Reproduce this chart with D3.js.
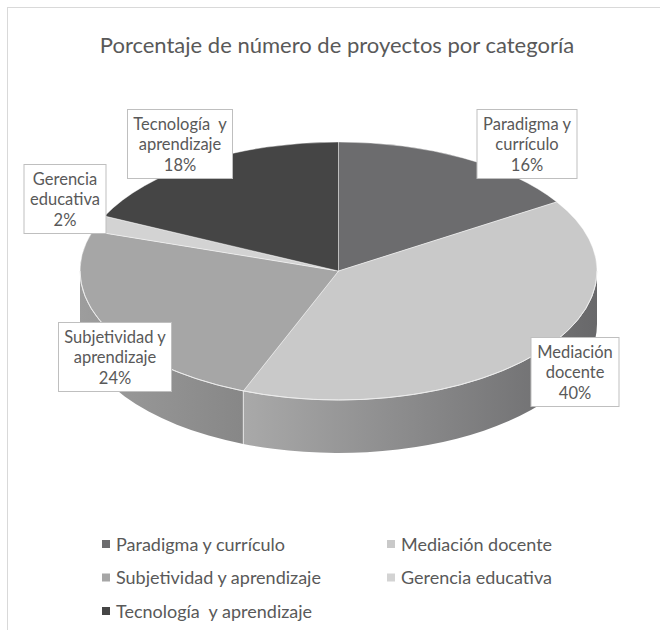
<!DOCTYPE html>
<html>
<head>
<meta charset="utf-8">
<script src="https://cdn.jsdelivr.net/npm/d3@7"></script>
<style>
  html, body { margin: 0; padding: 0; background: #fff; }
  svg text { font-family: Lato, "Open Sans", sans-serif; fill: #595959; white-space: pre; }
</style>
</head>
<body>
<div id="chart"></div>
<script>
  var title = 'Porcentaje de número de proyectos por categoría';
  var categories = ['Paradigma y currículo', 'Mediación docente', 'Subjetividad y aprendizaje', 'Gerencia educativa', 'Tecnología  y aprendizaje'];
  var values = [16, 40, 24, 2, 18];
  var topColors = ['#6c6c6e', '#c9c9c9', '#a6a6a6', '#d3d3d3', '#454545'];
  // side wall gradients (left -> right)
  var sideColors = [['#5e5e60', '#4e4e50'], ['#a9a9a9', '#68686a'], ['#9d9d9d', '#878787'], ['#b5b5b5', '#a5a5a5'], ['#3c3c3c', '#333']];
  // label box centres (layout only)
  var labelPos = [[527, 144], [575, 372], [115, 357], [65, 199], [180, 144]];

  var W = 660, H = 630;
  var cx = 338.5, cy = 271, rx = 258.5, ry = 129, depth = 53;

  var svg = d3.select('#chart').append('svg').attr('width', W).attr('height', H);
  var defs = svg.append('defs');

  svg.append('rect').attr('x', 7.5).attr('y', 7.5).attr('width', 720).attr('height', 720)
    .attr('fill', '#fff').attr('stroke', '#d9d9d9');

  svg.append('text').attr('x', 337).attr('y', 53).attr('text-anchor', 'middle')
    .attr('font-size', 22).text(title);

  var arcs = d3.pie().sort(null).value(function (d) { return d; })(values);

  function pt(a, dy) { return [cx + rx * Math.sin(a), cy - ry * Math.cos(a) + (dy || 0)]; }

  var g = svg.append('g');

  // side walls (front half only)
  arcs.forEach(function (d, i) {
    var s = Math.max(d.startAngle, Math.PI / 2), e = Math.min(d.endAngle, 3 * Math.PI / 2);
    if (e <= s) return;
    var p0 = pt(s), p1 = pt(e), p2 = pt(e, depth), p3 = pt(s, depth);
    var gid = 'side' + i;
    var grad = defs.append('linearGradient').attr('id', gid).attr('gradientUnits', 'userSpaceOnUse')
      .attr('x1', Math.min(p0[0], p1[0])).attr('x2', Math.max(p0[0], p1[0])).attr('y1', 0).attr('y2', 0);
    grad.append('stop').attr('offset', 0).attr('stop-color', sideColors[i][0]);
    grad.append('stop').attr('offset', 1).attr('stop-color', sideColors[i][1]);
    g.append('path')
      .attr('d', 'M' + p0 + 'A' + rx + ',' + ry + ' 0 0 1 ' + p1 + 'L' + p2 + 'A' + rx + ',' + ry + ' 0 0 0 ' + p3 + 'Z')
      .attr('fill', 'url(#' + gid + ')');
  });
  // divider lines on the wall
  arcs.forEach(function (d) {
    var a = d.endAngle;
    if (a > Math.PI / 2 && a < 3 * Math.PI / 2) {
      var t = pt(a), b = pt(a, depth);
      g.append('line').attr('x1', t[0]).attr('y1', t[1]).attr('x2', b[0]).attr('y2', b[1])
        .attr('stroke', '#e6e6e6').attr('stroke-width', 1);
    }
  });

  // top face slices
  arcs.forEach(function (d, i) {
    var p0 = pt(d.startAngle), p1 = pt(d.endAngle);
    var large = d.endAngle - d.startAngle > Math.PI ? 1 : 0;
    g.append('path')
      .attr('d', 'M' + cx + ',' + cy + 'L' + p0 + 'A' + rx + ',' + ry + ' 0 ' + large + ' 1 ' + p1 + 'Z')
      .attr('fill', topColors[i]).attr('stroke', 'rgba(255,255,255,0.55)').attr('stroke-width', 0.8);
  });
  // highlight along the front rim
  var f0 = pt(Math.PI / 2), f1 = pt(3 * Math.PI / 2);
  g.append('path').attr('d', 'M' + f0 + 'A' + rx + ',' + ry + ' 0 0 1 ' + f1)
    .attr('fill', 'none').attr('stroke', '#ececec').attr('stroke-width', 1);

  // data labels
  var lg = svg.append('g');
  arcs.forEach(function (d, i) {
    var words = categories[i].split(' ');
    var lines = [words.slice(0, -1).join(' '), words[words.length - 1], values[i] + '%'];
    var box = lg.append('g').attr('transform', 'translate(' + labelPos[i][0] + ',' + labelPos[i][1] + ')');
    var rect = box.append('rect');
    var maxW = 0;
    lines.forEach(function (l, j) {
      var t = box.append('text').attr('text-anchor', 'middle').attr('font-size', 16.5)
        .attr('y', (j - 1) * 20.5 + 6).text(l);
      maxW = Math.max(maxW, t.node().getComputedTextLength());
    });
    var bw = Math.round(maxW + 12), bh = 69;
    rect.attr('x', -bw / 2).attr('y', -bh / 2).attr('width', bw).attr('height', bh)
      .attr('fill', '#fff').attr('stroke', '#bfbfbf');
  });

  // legend
  var leg = svg.append('g');
  categories.forEach(function (c, i) {
    var x = 102 + (i % 2) * 285, y = 544 + Math.floor(i / 2) * 33.5;
    leg.append('rect').attr('x', x).attr('y', y - 4).attr('width', 8).attr('height', 8).attr('fill', topColors[i]);
    leg.append('text').attr('x', x + 14).attr('y', y + 6.5).attr('font-size', 18).text(c);
  });
</script>
</body>
</html>
